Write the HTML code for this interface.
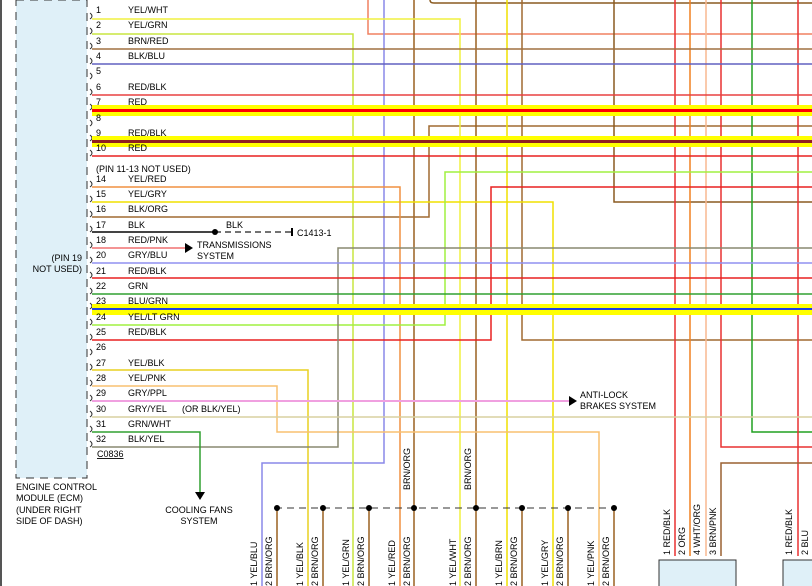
<!DOCTYPE html>
<html><head><meta charset="utf-8"><style>
html,body{margin:0;padding:0;background:#fff;}
svg{display:block;font-family:"Liberation Sans",sans-serif;}
text{font-size:9px;fill:#000;}
</style></head><body>
<svg width="812" height="586" viewBox="0 0 812 586">
<rect x="0" y="0" width="812" height="586" fill="#fff"/>
<line x1="1" y1="0" x2="1" y2="586" stroke="#555" stroke-width="2"/>
<g>
<rect x="16" y="0" width="71" height="478" fill="#dff0f8" stroke="#333" stroke-dasharray="8,6" stroke-width="1"/>
</g>
<g>
<text x="16" y="490">ENGINE CONTROL</text><text x="16" y="501">MODULE (ECM)</text>
<text x="16" y="513">(UNDER RIGHT</text><text x="16" y="524">SIDE OF DASH)</text>
<text x="82" y="261" text-anchor="end">(PIN 19</text><text x="82" y="272" text-anchor="end">NOT USED)</text>
</g>
<g fill="none" stroke="#333" stroke-width="1">
<path d="M90 13q4 3 0 6M90 28q4 3 0 6M90 43q4 3 0 6M90 58q4 3 0 6M90 73q4 3 0 6M90 89q4 3 0 6M90 104q4 3 0 6M90 120q4 3 0 6M90 135q4 3 0 6M90 150q4 3 0 6M90 181q4 3 0 6M90 196q4 3 0 6M90 211q4 3 0 6M90 226q4 3 0 6M90 242q4 3 0 6M90 257q4 3 0 6M90 272q4 3 0 6M90 288q4 3 0 6M90 303q4 3 0 6M90 319q4 3 0 6M90 334q4 3 0 6M90 349q4 3 0 6M90 364q4 3 0 6M90 380q4 3 0 6M90 395q4 3 0 6M90 411q4 3 0 6M90 426q4 3 0 6M90 441q4 3 0 6"/>
</g>

<g fill="none" stroke-width="1.5">
<path d="M368 0V34H812" stroke="#f08060"/>
<path d="M384 0V463H262V586" stroke="#8a88e8"/>
<path d="M92 34H353V586" stroke="#c8e640"/>
<path d="M414 0V586" stroke="#9a6020"/>
<path d="M430 0Q430 3 434 3H812" stroke="#8a5a20"/>
<path d="M92 217H429V126H812" stroke="#a06a30"/>
<path d="M92 19H460V586" stroke="#f0f040"/>
<path d="M476 0V586" stroke="#9a6020"/>
<path d="M507 0V586" stroke="#f0e000"/>
<path d="M522 0V340H812" stroke="#a06a30"/>
<path d="M92 202H553V586" stroke="#f0e000"/>
<path d="M614 0V202H812" stroke="#8a5a20"/>
<path d="M675 0V556" stroke="#e83030"/>
<path d="M690 0V556" stroke="#f08020"/>
<path d="M706 0V556" stroke="#f8b890"/>
<path d="M721 0V447H812" stroke="#e83030"/>
<path d="M752 0V432H812" stroke="#20a020"/>
<path d="M798 0V556" stroke="#e83030"/>
<path d="M812 463H721V556" stroke="#9a6030"/>
<path d="M92 187H400V586" stroke="#f09040"/>
<path d="M92 325H445V172H812" stroke="#a0f040"/>
<path d="M92 340H491V187H812" stroke="#e82020"/>
<path d="M92 370H308V586" stroke="#e8d020"/>
<path d="M92 386H277V432H599V586" stroke="#f8c070"/>
<path d="M92 447H338V248H812" stroke="#888870"/>
<path d="M92 432H200V492" stroke="#30a030"/>
<path d="M277 508V586M323 508V586M369 508V586M522 508V586M568 508V586M614 508V586" stroke="#9a6020"/>
</g>
<polygon points="195,492 205,492 200,500" fill="#000"/>

<g stroke-width="1.5">
<line x1="92" y1="49" x2="812" y2="49" stroke="#a07040"/>
<line x1="92" y1="64" x2="812" y2="64" stroke="#6060c0"/>
<line x1="92" y1="95" x2="812" y2="95" stroke="#e84040"/>
<line x1="92" y1="156" x2="812" y2="156" stroke="#e82020"/>
<line x1="92" y1="263" x2="812" y2="263" stroke="#9090f0"/>
<line x1="92" y1="278" x2="812" y2="278" stroke="#e82020"/>
<line x1="92" y1="294" x2="812" y2="294" stroke="#30a030"/>
<line x1="92" y1="401" x2="573" y2="401" stroke="#f0a0e0" stroke-width="2"/>
<line x1="92" y1="417" x2="812" y2="417" stroke="#d8d0a0"/>
<line x1="92" y1="248" x2="185" y2="248" stroke="#f07070"/>
<line x1="92" y1="232" x2="215" y2="232" stroke="#444" stroke-width="2"/>
<line x1="215" y1="232" x2="292" y2="232" stroke="#444" stroke-dasharray="6,4"/>
<line x1="275" y1="508" x2="614" y2="508" stroke="#333" stroke-width="1" stroke-dasharray="7,5"/>
</g>
<g>
<rect x="92" y="105" width="720" height="11" fill="#ffff00"/><rect x="92" y="109" width="720" height="3" fill="#ff0000"/>
<rect x="92" y="136" width="720" height="11" fill="#ffff00"/><rect x="92" y="140" width="720" height="3" fill="#902020"/>
<rect x="92" y="304" width="720" height="11" fill="#ffff00"/><rect x="92" y="308" width="720" height="2" fill="#2040e0"/>
</g>
<g fill="#000">
<circle cx="215" cy="232" r="3"/>
<circle cx="277" cy="508" r="3"/><circle cx="323" cy="508" r="3"/><circle cx="369" cy="508" r="3"/><circle cx="414" cy="508" r="3"/>
<circle cx="476" cy="508" r="3"/><circle cx="522" cy="508" r="3"/><circle cx="568" cy="508" r="3"/><circle cx="614" cy="508" r="3"/>
</g>
<polygon points="185,243 185,253 193,248" fill="#000"/>
<polygon points="569,396 569,406 577,401" fill="#000"/>
<rect x="291" y="228" width="2" height="8" fill="#000"/>

<g>
<text x="96" y="13">1</text><text x="128" y="13">YEL/WHT</text>
<text x="96" y="28">2</text><text x="128" y="28">YEL/GRN</text>
<text x="96" y="44">3</text><text x="128" y="44">BRN/RED</text>
<text x="96" y="59">4</text><text x="128" y="59">BLK/BLU</text>
<text x="96" y="74">5</text>
<text x="96" y="90">6</text><text x="128" y="90">RED/BLK</text>
<text x="96" y="105">7</text><text x="128" y="105">RED</text>
<text x="96" y="121">8</text>
<text x="96" y="136">9</text><text x="128" y="136">RED/BLK</text>
<text x="96" y="151">10</text><text x="128" y="151">RED</text>
<text x="96" y="172">(PIN 11-13 NOT USED)</text>
<text x="96" y="182">14</text><text x="128" y="182">YEL/RED</text>
<text x="96" y="197">15</text><text x="128" y="197">YEL/GRY</text>
<text x="96" y="212">16</text><text x="128" y="212">BLK/ORG</text>
<text x="96" y="228">17</text><text x="128" y="228">BLK</text>
<text x="96" y="243">18</text><text x="128" y="243">RED/PNK</text>
<text x="96" y="258">20</text><text x="128" y="258">GRY/BLU</text>
<text x="96" y="274">21</text><text x="128" y="274">RED/BLK</text>
<text x="96" y="289">22</text><text x="128" y="289">GRN</text>
<text x="96" y="304">23</text><text x="128" y="304">BLU/GRN</text>
<text x="96" y="320">24</text><text x="128" y="320">YEL/LT GRN</text>
<text x="96" y="335">25</text><text x="128" y="335">RED/BLK</text>
<text x="96" y="350">26</text>
<text x="96" y="366">27</text><text x="128" y="366">YEL/BLK</text>
<text x="96" y="381">28</text><text x="128" y="381">YEL/PNK</text>
<text x="96" y="396">29</text><text x="128" y="396">GRY/PPL</text>
<text x="96" y="412">30</text><text x="128" y="412">GRY/YEL</text><text x="182" y="412">(OR BLK/YEL)</text>
<text x="96" y="427">31</text><text x="128" y="427">GRN/WHT</text>
<text x="96" y="442">32</text><text x="128" y="442">BLK/YEL</text>
<text x="97" y="457" text-decoration="underline">C0836</text>
<text x="226" y="228">BLK</text><text x="297" y="236">C1413-1</text>
<text x="197" y="248">TRANSMISSIONS</text><text x="197" y="259">SYSTEM</text>
<text x="580" y="398">ANTI-LOCK</text><text x="580" y="409">BRAKES SYSTEM</text>
<text x="199" y="513" text-anchor="middle">COOLING FANS</text><text x="199" y="524" text-anchor="middle">SYSTEM</text>
</g>

<g>
<text transform="translate(410,490) rotate(-90)">BRN/ORG</text>
<text transform="translate(471,490) rotate(-90)">BRN/ORG</text>
<text transform="translate(257,586) rotate(-90)">1  YEL/BLU</text><text transform="translate(272,586) rotate(-90)">2  BRN/ORG</text>
<text transform="translate(303,586) rotate(-90)">1  YEL/BLK</text><text transform="translate(318,586) rotate(-90)">2  BRN/ORG</text>
<text transform="translate(349,586) rotate(-90)">1  YEL/GRN</text><text transform="translate(364,586) rotate(-90)">2  BRN/ORG</text>
<text transform="translate(395,586) rotate(-90)">1  YEL/RED</text><text transform="translate(410,586) rotate(-90)">2  BRN/ORG</text>
<text transform="translate(456,586) rotate(-90)">1  YEL/WHT</text><text transform="translate(471,586) rotate(-90)">2  BRN/ORG</text>
<text transform="translate(502,586) rotate(-90)">1  YEL/BRN</text><text transform="translate(517,586) rotate(-90)">2  BRN/ORG</text>
<text transform="translate(548,586) rotate(-90)">1  YEL/GRY</text><text transform="translate(563,586) rotate(-90)">2  BRN/ORG</text>
<text transform="translate(594,586) rotate(-90)">1  YEL/PNK</text><text transform="translate(609,586) rotate(-90)">2  BRN/ORG</text>
<text transform="translate(670,555) rotate(-90)">1  RED/BLK</text><text transform="translate(685,555) rotate(-90)">2  ORG</text>
<text transform="translate(700,555) rotate(-90)">4  WHT/ORG</text><text transform="translate(716,555) rotate(-90)">3  BRN/PNK</text>
<text transform="translate(792,555) rotate(-90)">1  RED/BLK</text><text transform="translate(808,555) rotate(-90)">2  BLU</text>
</g>
<g>
<rect x="659" y="560" width="77" height="30" fill="#dff0f8" stroke="#333"/>
<rect x="783" y="560" width="40" height="30" fill="#dff0f8" stroke="#333"/>
</g>
</svg>
</body></html>
